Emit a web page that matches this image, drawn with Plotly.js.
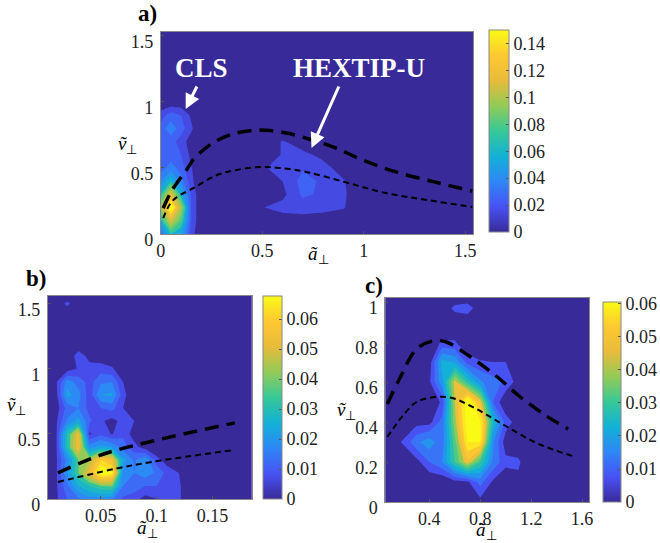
<!DOCTYPE html>
<html><head><meta charset="utf-8">
<script src="https://cdn.plot.ly/plotly-3.0.1.min.js"></script>
<style>html,body{margin:0;padding:0;background:#fff}</style></head>
<body><div id="chart" style="width:660px;height:543px"></div>
<script>
// Panel a: density in thousandths
const aX=[0,.05,.1,.15,.2,.3,.4,.5,.6,.7,.8,.9,1,1.54];
const aY=[0,.1,.2,.3,.4,.5,.6,.7,.8,.9,1,1.53];
const aZ=[
[30,60,50,15,0,0,0,0,0,0,0,0,0,0],
[55,100,70,20,0,0,0,0,4,6,5,2,0,0],
[85,140,90,20,0,0,0,9.5,14,14,13,11,0,0],
[60,105,55,20,0,0,0,0,7,22,18,12,0,0],
[40,60,35,13,0,0,0,3,10,24,18,11,0,0],
[25,35,25,11,0,0,0,9,13,19,14,5,0,0],
[20,25,20,7,0,0,0,1,11,13,7,0,0,0],
[20,25,15,5,0,0,0,0,11,4,0,0,0,0],
[25,36,25,12,0,0,0,0,0,0,0,0,0,0],
[15,25,20,8,0,0,0,0,0,0,0,0,0,0],
[0,2,2,0,0,0,0,0,0,0,0,0,0,0],
[0,0,0,0,0,0,0,0,0,0,0,0,0,0]];
const aThickX=[.012,.055,.127,.167,.257,.354,.453,.52,.62,.75,.865,.995,1.16,1.36,1.535];
const aThickY=[.195,.33,.485,.575,.69,.757,.785,.785,.765,.71,.65,.56,.47,.39,.325];
const aThinX=[.012,.06,.158,.275,.372,.487,.585,.717,.915,1.11,1.31,1.535];
const aThinY=[.12,.255,.345,.445,.485,.507,.5,.47,.39,.31,.258,.205];
// Panel b
const bX=[.0027,.01,.02,.03,.04,.05,.06,.07,.08,.09,.1,.11,.12,.13,.185];
const bY=[0,.1,.2,.3,.4,.5,.6,.7,.8,.9,1,1.1,1.2,1.44,1.5,1.56];
const bZ=[
[0,4,10,14,18,18,16,9,7,3,5,7,6,0,0],
[0,4,14,25,30,35,36,15,13,10,10,8,6,0,0],
[0,4,20,35,48,66,62,18,15,18,14,8,5,0,0],
[0,4,17,35,40,55,50,22,14,20,7,2,0,0,0],
[0,4,30,50,18,22,20,12,7,2,0,0,0,0,0],
[0,4,30,48,4,9,4.5,9,2,0,0,0,0,0,0],
[0,4,16,22,11,6,3,7,5,0,0,0,0,0,0],
[0,2,12,15,8,10,12,5,0,0,0,0,0,0,0],
[0,3,22,17,7,20,21,7,0,0,0,0,0,0,0],
[0,4,18,13,8,14,15,5,0,0,0,0,0,0,0],
[0,0,2,5.5,7,8,6,0,0,0,0,0,0,0,0],
[0,0,0,8,3,1,0,0,0,0,0,0,0,0,0],
[0,0,0,0,0,0,0,0,0,0,0,0,0,0,0],
[0,0,0,0,0,0,0,0,0,0,0,0,0,0,0],
[0,0,7,0,0,0,0,0,0,0,0,0,0,0,0],
[0,0,0,0,0,0,0,0,0,0,0,0,0,0,0]];
const bThickX=[.0116,.05,.094,.17];
const bThickY=[.2,.338,.44,.585];
const bThinX=[.0116,.079,.17];
const bThinY=[.13,.26,.377];
// Panel c
const cX=[.055,.2,.3,.4,.5,.6,.7,.8,.9,1,1.1,1.2,1.655];
const cY=[0,.1,.2,.3,.4,.5,.6,.7,.8,.9,.97,1.02];
const cZ=[
[0,0,0,0,0,0,0,3,0,0,0,0,0],
[0,0,0,0,0,3,4,12,4,1,3.5,0,0],
[0,0,3,10,15,30,44,30,14,6.5,6,0,0],
[0,6,14,18,12,33,55,55,16,2,1,0,0],
[0,0,3,3,12,38,58,56,25,8,2,0,0],
[0,0,0,0,6,40,60,44,10,0,0,0,0],
[0,0,0,4,18,42,28,16,12,9,2.5,0,0],
[0,0,0,2,22,19,8,5.5,5,5,1,0,0],
[0,0,0,2,5.5,5.5,0,0,0,0,0,0,0],
[0,0,0,0,0,0,0,0,0,0,0,0,0],
[0,0,0,0,0,7,9,0,0,0,0,0,0],
[0,0,0,0,0,0,0,0,0,0,0,0,0]];
const cThickX=[.07,.165,.3,.425,.533,.713,.925,1.106,1.32,1.49];
const cThickY=[.49,.615,.765,.805,.8,.73,.63,.53,.43,.365];
const cThinX=[.07,.19,.3,.455,.58,.77,1,1.26,1.55];
const cThinY=[.325,.43,.5,.525,.52,.465,.38,.29,.225];

const parulaRGB=[[0,57,42,153],[.125,72,82,244],[.25,46,135,247],[.375,18,177,214],[.5,55,200,151],[.625,146,203,87],[.75,232,187,58],[.875,254,200,50],[1,249,251,21]];
const parula=parulaRGB.map(s=>[s[0],`rgb(${s[1]},${s[2]},${s[3]})`]);
function parulaAt(t){t=Math.min(1,Math.max(0,t));let i=0;while(i<parulaRGB.length-2&&t>parulaRGB[i+1][0])i++;
 const a=parulaRGB[i],b=parulaRGB[i+1],f=(t-a[0])/(b[0]-a[0]);
 return `rgb(${[1,2,3].map(k=>Math.round(a[k]+(b[k]-a[k])*f)).join(',')})`;}
// Flat colour per contour band; Plotly samples the scale half a step below a band
function bands(zmax,step){const s=[[0,parulaAt(0)]];
 const n=Math.floor(zmax/step+1e-6);
 let lo=(step/4)/zmax;
 s.push([lo,parulaAt(0)]);
 for(let i=1;i<=n&&lo<1;i++){const hi=Math.min(1,(i*step+step/4)/zmax);
  const c=parulaAt((i*step+step/2)/zmax);
  s.push([lo,c]);s.push([hi,c]);lo=hi;}
 if(lo<1)s.push([1,s[s.length-1][1]]);
 return s;}
const W=660,H=543,serif='"Liberation Serif","Times New Roman",serif';
const px=v=>v/W, py=v=>1-v/H;
const milli=z=>z.map(r=>r.map(v=>v/1000));

const panels=[
 {id:'',X:aX,Y:aY,Z:aZ,tx:aThickX,ty:aThickY,sx:aThinX,sy:aThinY,zmax:.15,step:.01,box:[161,474,32,234],xr:[0,1.54],yr:[0,1.53],
  xt:[0,.5,1,1.5],yt:[0,.5,1,1.5],cb:[489,20,30,232],cbt:[0,.02,.04,.06,.08,.1,.12,.14]},
 {id:'2',X:bX,Y:bY,Z:bZ,tx:bThickX,ty:bThickY,sx:bThinX,sy:bThinY,zmax:.0677,step:.005,box:[48,252,296,499],xr:[.0027,.185],yr:[0,1.56],
  xt:[.05,.1,.15],yt:[0,.5,1,1.5],cb:[263,19,296,499],cbt:[0,.01,.02,.03,.04,.05,.06]},
 {id:'3',X:cX,Y:cY,Z:cZ,tx:cThickX,ty:cThickY,sx:cThinX,sy:cThinY,zmax:.0606,step:.005,box:[386,590,298,502],xr:[.055,1.655],yr:[0,1.02],
  xt:[.4,.8,1.2,1.6],yt:[0,.2,.4,.6,.8,1],cb:[603,18,302,502],cbt:[0,.01,.02,.03,.04,.05,.06]}
];
const data=[],layout={width:W,height:H,margin:{l:0,r:0,t:0,b:0},paper_bgcolor:'#fff',plot_bgcolor:'#392a99',showlegend:false,
 font:{family:serif,size:18,color:'#222'},annotations:[]};
panels.forEach(p=>{
 const xa='x'+p.id,ya='y'+p.id;
 data.push({type:'contour',x:p.X,y:p.Y,z:milli(p.Z),xaxis:xa,yaxis:ya,colorscale:bands(p.zmax,p.step),zmin:0,zmax:p.zmax,showscale:false,
  autocontour:false,contours:{start:p.step,end:p.zmax,size:p.step,coloring:'fill',showlines:false},line:{width:0,smoothing:0},hoverinfo:'skip'});
 data.push({type:'scatter',mode:'lines',x:p.tx,y:p.ty,xaxis:xa,yaxis:ya,line:{color:'#000',width:3.5,dash:'14px,8px',shape:'spline'},hoverinfo:'skip'});
 data.push({type:'scatter',mode:'lines',x:p.sx,y:p.sy,xaxis:xa,yaxis:ya,line:{color:'#000',width:2,dash:'6px,4px',shape:'spline'},hoverinfo:'skip'});
 data.push({type:'scatter',mode:'markers',x:[null,null],y:[null,null],xaxis:xa,yaxis:ya,hoverinfo:'skip',
  marker:{color:[0,p.zmax],cmin:0,cmax:p.zmax,colorscale:parula,showscale:true,size:1,opacity:0,
   colorbar:{x:px(p.cb[0]),xanchor:'left',y:py(p.cb[3]),yanchor:'bottom',lenmode:'pixels',len:p.cb[3]-p.cb[2],thicknessmode:'pixels',thickness:p.cb[1],
    xpad:0,ypad:0,outlinecolor:'#888',outlinewidth:1,ticks:'inside',ticklen:3,tickcolor:'#555',tickvals:p.cbt,ticktext:p.cbt.map(String),tickfont:{family:serif,size:18,color:'#222'}}}});
 layout['xaxis'+p.id]={domain:[px(p.box[0]),px(p.box[1])],range:p.xr,anchor:ya,tickvals:p.xt,ticktext:p.xt.map(String),ticks:'inside',ticklen:3,tickcolor:'#555',
  showline:true,linecolor:'#888',linewidth:1,mirror:true,showgrid:false,zeroline:false,tickfont:{family:serif,size:18,color:'#222'},ticklabelstandoff:0};
 layout['yaxis'+p.id]={domain:[py(p.box[3]),py(p.box[2])],range:p.yr,anchor:xa,tickvals:p.yt,ticktext:p.yt.map(String),ticks:'inside',ticklen:3,tickcolor:'#555',
  showline:true,linecolor:'#888',linewidth:1,mirror:true,showgrid:false,zeroline:false,tickfont:{family:serif,size:18,color:'#222'},ticklabelshift:6,ticklabelstandoff:3};
});
function note(x,y,text,size,color){layout.annotations.push({xref:'paper',yref:'paper',x:px(x),y:py(y),xanchor:'center',yanchor:'middle',showarrow:false,text:text,
 font:{family:serif,size:size,color:color||'#000'}});}
function arrow(x0,y0,x1,y1){layout.annotations.push({xref:'paper',yref:'paper',axref:'paper',ayref:'paper',x:px(x1),y:py(y1),ax:px(x0),ay:py(y0),text:'',showarrow:true,arrowhead:2,arrowsize:1,arrowwidth:3,arrowcolor:'#fff'});}
note(148,13,'<b>a)</b>',23); note(36,278,'<b>b)</b>',23); note(375,285,'<b>c)</b>',23);
note(202,68,'<b>CLS</b>',27,'#fff'); note(360,68,'<b>HEXTIP-U</b>',27,'#fff');
arrow(198,85,186,109); arrow(340,85,312,148);
const ah='<i>ã</i><sub>⊥</sub>', vh='<i>ṽ</i><sub>⊥</sub>';
note(319,255,ah,19); note(128,145,vh,19);
note(148,529,ah,19); note(17,406,vh,19);
note(487,531,ah,19); note(347,411,vh,19);
Plotly.newPlot('chart',data,layout,{displayModeBar:false,staticPlot:true});
</script></body></html>
